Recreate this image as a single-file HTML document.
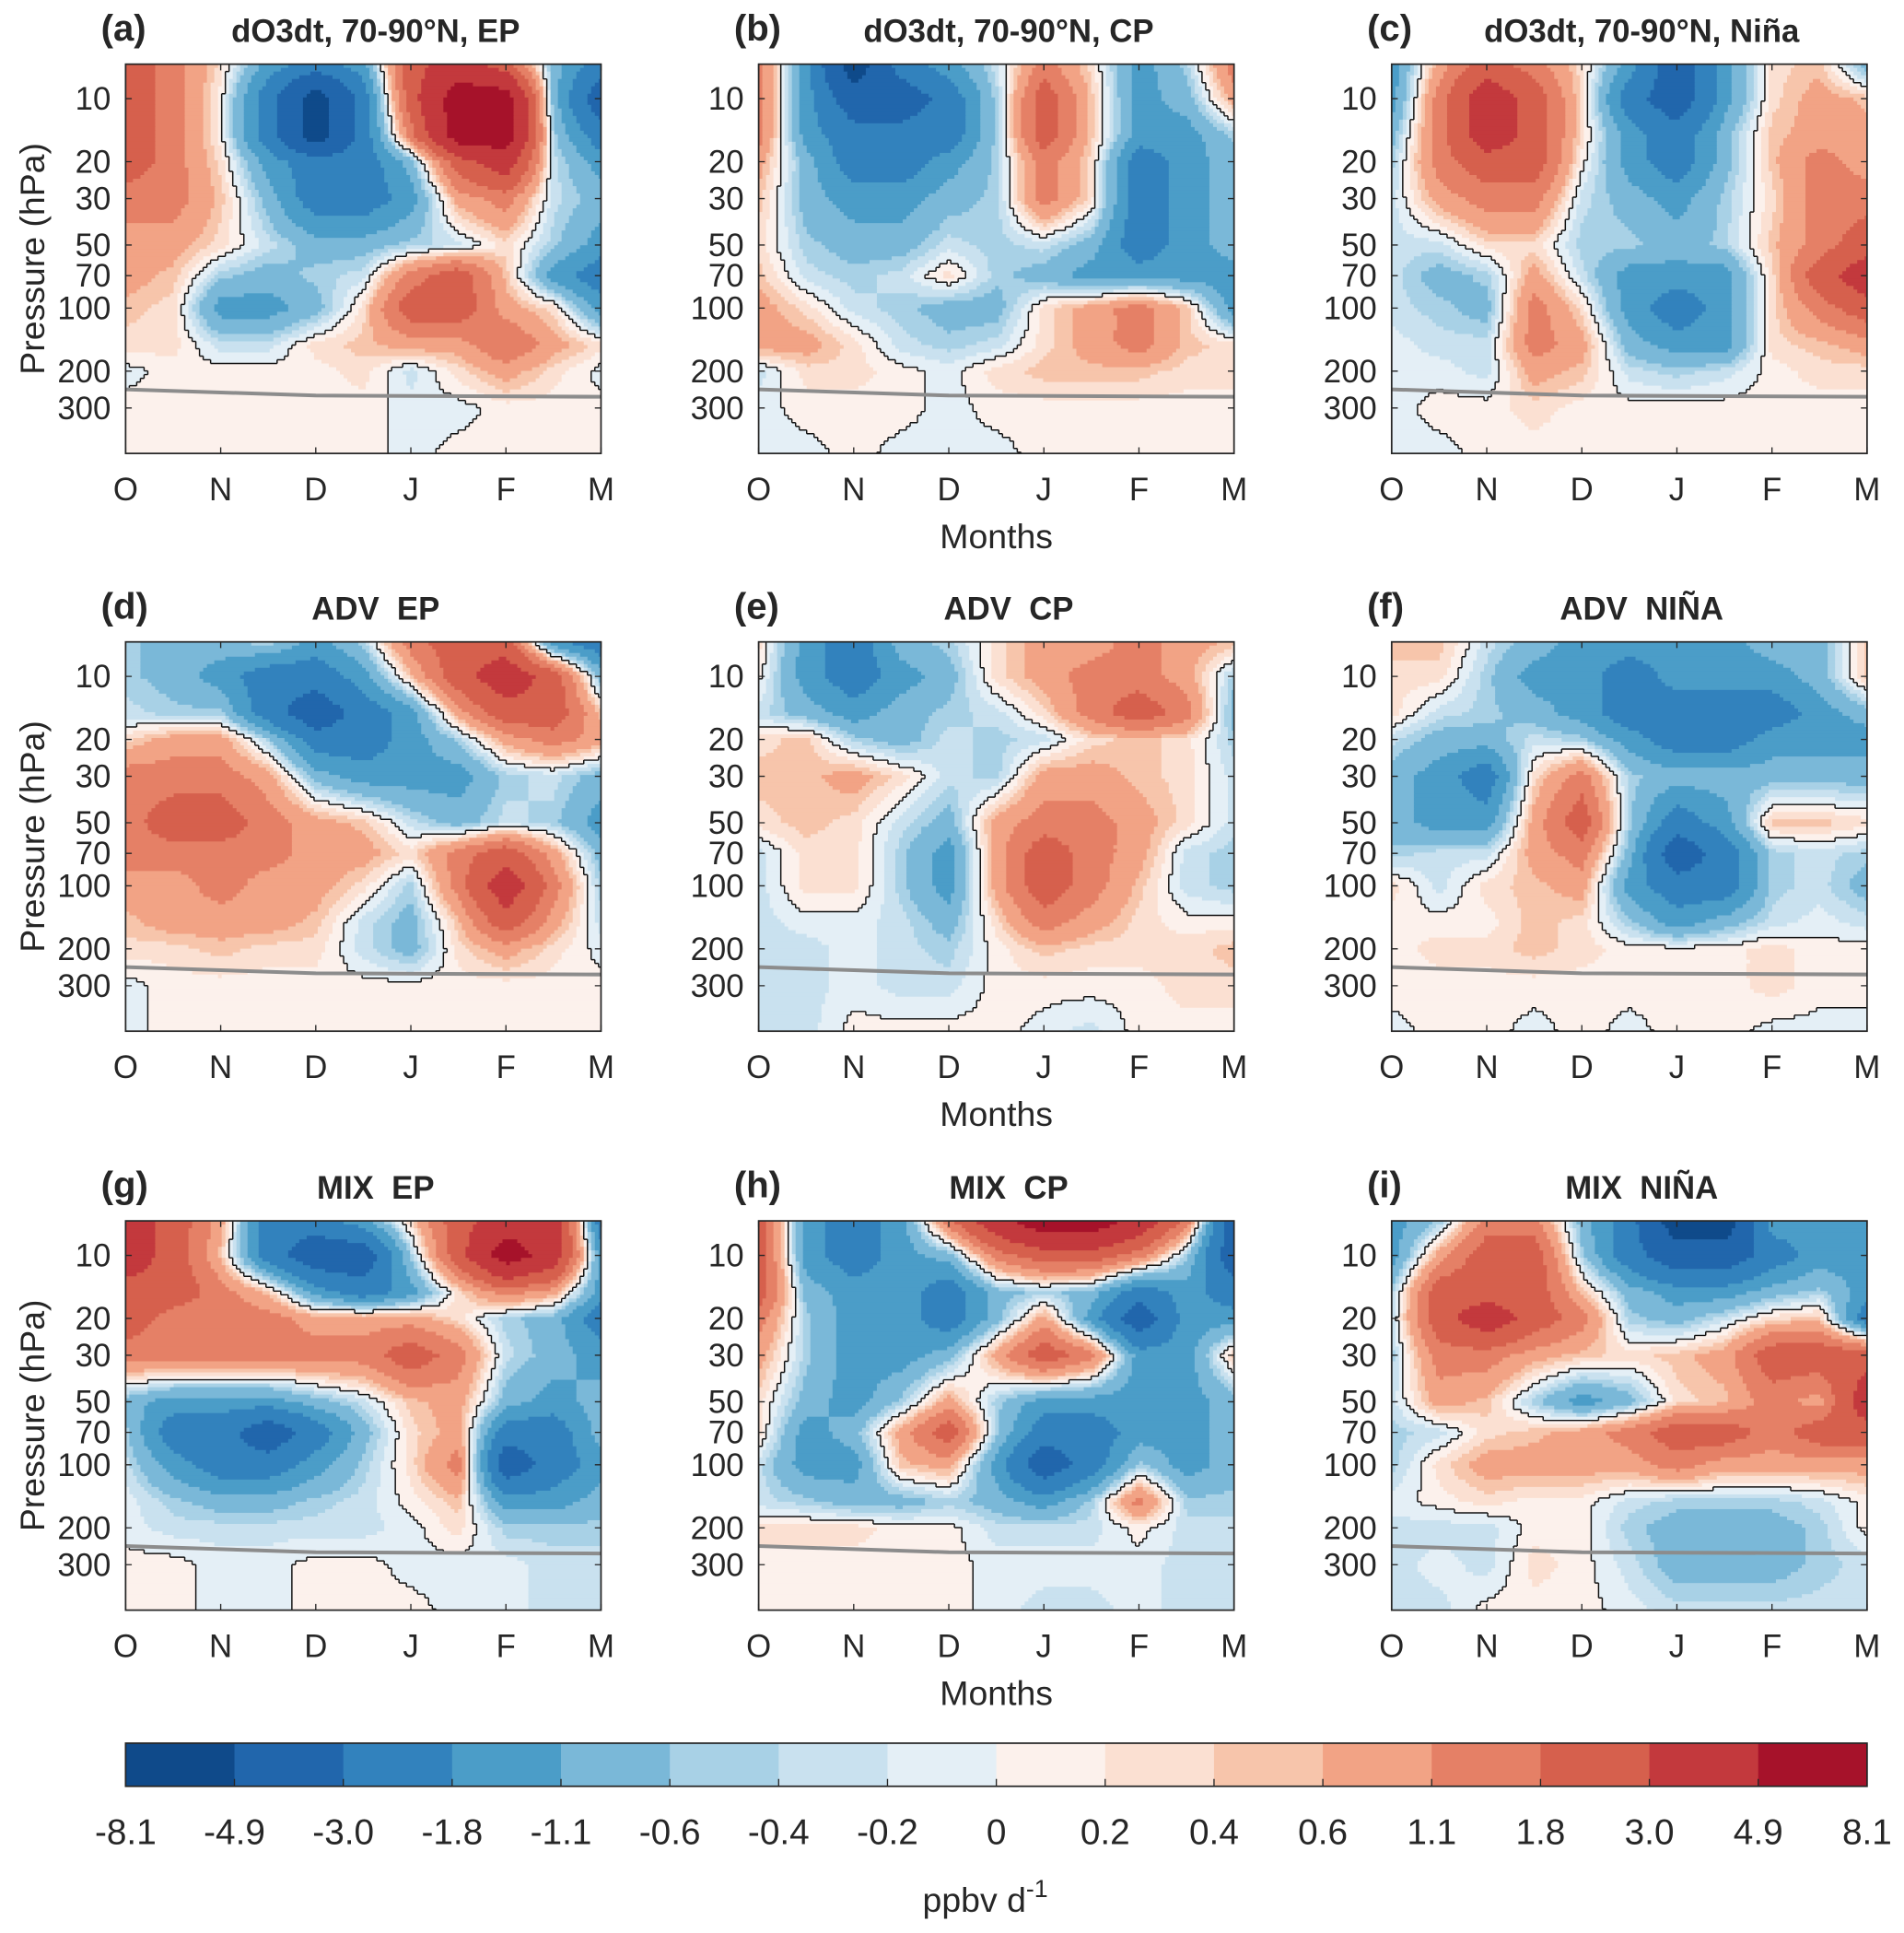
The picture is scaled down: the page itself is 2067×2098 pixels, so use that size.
<!DOCTYPE html>
<html><head><meta charset="utf-8"><style>
html,body{margin:0;padding:0;background:#fff}
svg{display:block}
text{font-family:"Liberation Sans",sans-serif;fill:#262626}
</style></head><body>
<svg id="fig" width="2067" height="2098" viewBox="0 0 1546 1569" xmlns="http://www.w3.org/2000/svg"></svg>
<script>
const pressures=[7,10,15,20,30,50,70,100,150,200,300,500];
const monthLabels=["O","N","D","J","F","M"];
const pressureTicks=[10,20,30,50,70,100,200,300];
const levels=[-8.1,-4.9,-3.0,-1.8,-1.1,-0.6,-0.4,-0.2,0,0.2,0.4,0.6,1.1,1.8,3.0,4.9,8.1];
const levelLabels=["-8.1","-4.9","-3.0","-1.8","-1.1","-0.6","-0.4","-0.2","0","0.2","0.4","0.6","1.1","1.8","3.0","4.9","8.1"];
const colors=["#0f4a8a","#2166ac","#3282bd","#4b9dc8","#7ab8d8","#a8d1e6","#c9e1ef","#e4eff6","#fcf1ec","#fbe0d2","#f7c5ab","#f2a385","#e58066","#d6604d","#c3393d","#a6122a"];
const panelTitles=["dO3dt, 70-90°N, EP","dO3dt, 70-90°N, CP","dO3dt, 70-90°N, Niña","ADV  EP","ADV  CP","ADV  NIÑA","MIX  EP","MIX  CP","MIX  NIÑA"];
const panelLetters=["(a)","(b)","(c)","(d)","(e)","(f)","(g)","(h)","(i)"];
const dataA=[
[2.4,1.4,0.3,-1.4,-2.4,-1.4,2.4,4,2.4,-0.8,-2.4],
[2.4,1.4,0.1,-2.4,-6,-2.4,2.4,6,6,-0.8,-4],
[2.4,1.4,0.1,-2.4,-6,-2.4,1.4,6,6,-0.5,-2.4],
[2.4,1.4,0.3,-1.4,-2.4,-2.4,-0.8,2.4,4,-0.3,-1.4],
[1.4,1.4,0.5,-0.8,-2.4,-2.4,-1.4,0.8,1.4,-0.3,-0.8],
[0.8,0.8,0.3,-0.3,-0.8,-0.8,-0.5,-0.3,0.3,-0.5,-1.4],
[0.8,0.5,-0.5,-0.8,-0.5,-0.3,1.4,2.4,0.5,-1.4,-2.4],
[0.5,0.3,-1.4,-1.4,-0.8,0.3,2.4,2.4,0.8,0.3,-1.4],
[0.3,0.3,-0.3,-0.3,0.3,0.5,0.8,0.8,1.8,0.8,0.3],
[-0.1,0.1,0.1,0.1,0.1,0.3,-0.3,0.3,0.8,0.3,-0.1],
[0.1,0.1,0.1,0.1,0.1,0.1,-0.1,-0.1,0.1,0.1,0.1],
[0.1,0.1,0.1,0.1,0.1,0.1,-0.1,0.1,0.1,0.1,0.1]];
const dataB=[
[1.4,-1.4,-6,-2.4,-1.4,-0.3,1.4,0.3,-1.4,-0.5,1.4],
[1.4,-1.4,-4,-4,-2.4,-0.5,2.4,0.5,-1.4,-0.8,0.8],
[1.4,-1.4,-2.4,-2.4,-2.4,-0.5,2.4,0.5,-1.4,-1.4,-0.5],
[0.8,-0.8,-2.4,-2.4,-1.4,-0.5,1.4,0.3,-2.4,-1.4,-0.8],
[0.5,-0.8,-1.4,-1.4,-0.8,-0.5,1.4,0.3,-2.4,-1.4,-0.8],
[0.3,-0.5,-0.8,-0.8,-0.3,-0.5,-0.3,-0.8,-2.4,-1.4,-0.8],
[0.5,-0.3,-0.5,-0.3,0.3,-0.5,-0.8,-1.4,-1.4,-1.4,-1.4],
[0.8,0.3,-0.3,-0.5,-0.8,-0.8,0.3,0.8,1.4,0.5,-1.4],
[0.8,0.8,0.3,-0.3,-0.5,-0.3,0.3,0.8,1.4,0.5,0.3],
[-0.3,0.3,0.3,0.1,-0.1,0.3,0.5,0.5,0.5,0.3,0.3],
[-0.1,0.1,0.1,0.1,-0.1,0.1,0.1,0.1,0.1,0.1,0.1],
[-0.1,-0.1,0.1,-0.1,-0.1,-0.1,0.1,0.1,0.1,0.1,0.1]];
const dataC=[
[-1.4,0.8,2.4,1.4,0.3,-1.4,-4,-1.4,0.3,0.5,-0.8],
[-1.4,1.4,4,2.4,0.3,-2.4,-4,-1.4,0.3,0.8,0.5],
[-0.8,1.4,4,2.4,0.3,-1.4,-2.4,-0.8,0.5,0.8,0.8],
[-0.5,1.4,2.4,2.4,0.1,-1.4,-2.4,-0.8,0.5,1.4,0.8],
[-0.3,0.8,1.4,1.4,-0.3,-0.8,-1.4,-0.5,0.3,1.4,1.4],
[-0.3,-0.3,0.3,0.3,-0.5,-0.5,-0.8,-0.5,0.5,1.4,2.4],
[-0.3,-0.8,-0.5,0.8,-0.3,-1.4,-1.4,-1.4,0.3,2.4,4],
[-0.3,-0.5,-0.8,1.4,0.3,-1.4,-2.4,-1.4,0.3,1.4,2.4],
[-0.1,-0.3,-0.3,1.4,0.8,-0.8,-1.4,-1.4,0.3,0.5,0.8],
[-0.1,-0.1,-0.3,0.8,0.5,-0.3,-0.5,-0.3,0.1,0.3,0.3],
[-0.1,0.1,0.1,0.3,0.1,0.1,0.1,0.1,0.1,0.1,0.1],
[-0.1,-0.1,0.1,0.1,0.1,0.1,0.1,0.1,0.1,0.1,0.1]];
const dataD=[
[-0.5,-0.8,-0.8,-0.5,-1.4,-0.5,1.4,2.4,2.4,-1.4,-2.4],
[-0.5,-0.8,-1.4,-2.4,-2.4,-1.4,0.5,2.4,4,2.4,-0.8],
[-0.3,-0.5,-0.5,-2.4,-4,-2.4,-1.4,0.8,2.4,2.4,0.5],
[0.3,0.8,0.8,-0.5,-2.4,-2.4,-1.4,-0.5,0.8,1.4,0.8],
[1.4,1.4,1.4,0.8,-0.8,-1.4,-1.4,-1.4,-0.5,-0.3,-0.8],
[1.4,2.4,2.4,1.4,0.8,0.5,-0.3,-0.8,-0.3,-0.5,-1.4],
[1.4,1.4,1.4,1.4,0.8,0.8,0.3,1.4,2.4,0.8,-0.8],
[0.8,0.8,1.4,0.8,0.8,0.3,-0.5,1.4,4,1.4,-0.5],
[0.5,0.8,0.8,0.8,0.5,-0.3,-0.8,0.5,2.4,0.8,-0.3],
[0.3,0.3,0.5,0.3,0.3,-0.3,-0.8,0.3,0.8,0.3,-0.1],
[-0.1,0.1,0.1,0.1,0.1,0.1,0.1,0.1,0.1,0.1,0.1],
[-0.1,0.1,0.1,0.1,0.1,0.1,0.1,0.1,0.1,0.1,0.1]];
const dataE=[
[0.3,-1.4,-2.4,-0.8,-0.5,0.3,0.8,0.8,1.4,0.8,0.5],
[0.1,-1.4,-2.4,-1.4,-0.8,0.3,0.8,1.4,1.4,0.8,-0.5],
[-0.3,-0.8,-1.4,-0.8,-0.5,-0.3,0.3,1.4,2.4,1.4,-0.8],
[0.3,0.5,-0.5,-0.8,-0.3,-0.5,-0.3,0.3,0.5,0.3,-0.5],
[0.5,0.5,0.8,0.3,-0.3,-0.5,0.8,0.8,0.5,0.3,-0.3],
[0.3,0.5,0.3,-0.3,-0.8,0.8,1.4,1.4,0.8,0.3,-0.3],
[-0.3,0.3,0.3,-0.5,-1.4,0.8,2.4,1.4,0.8,-0.3,-0.5],
[-0.3,0.3,0.3,-0.5,-1.4,0.8,2.4,1.4,0.5,-0.3,-0.5],
[-0.3,-0.1,-0.1,-0.3,-0.8,0.3,1.4,0.8,0.3,0.1,0.1],
[-0.3,-0.3,-0.1,-0.3,-0.5,0.1,0.5,0.3,0.3,0.3,0.5],
[-0.3,-0.3,-0.1,-0.3,-0.3,0.1,0.1,0.1,0.1,0.3,0.3],
[-0.3,-0.3,0.1,0.1,0.1,0.1,-0.1,-0.3,0.1,0.1,0.1]];
const dataF=[
[0.5,0.5,-0.3,-0.8,-1.4,-1.4,-1.4,-1.4,-0.8,-0.8,0.5],
[0.3,0.3,-0.5,-1.4,-1.4,-2.4,-1.4,-1.4,-1.4,-0.8,0.5],
[0.3,-0.3,-0.5,-0.8,-1.4,-2.4,-2.4,-2.4,-2.4,-1.4,-0.8],
[-0.3,-0.8,-0.8,-0.3,-0.5,-1.4,-2.4,-2.4,-1.4,-1.4,-1.4],
[-0.8,-1.4,-2.4,0.3,1.4,-0.5,-0.8,-0.8,-0.8,-0.8,-0.8],
[-0.8,-1.4,-1.4,0.8,2.4,-0.5,-2.4,-1.4,0.5,0.5,0.3],
[-0.5,-0.3,-0.3,0.8,1.4,-0.8,-4,-2.4,-0.5,-0.3,-0.5],
[0.3,-0.3,0.3,0.5,0.8,-1.4,-2.4,-2.4,-0.5,-0.3,-0.8],
[0.1,0.1,0.1,0.5,0.3,-0.5,-1.4,-0.8,-0.3,-0.1,-0.3],
[0.1,0.3,0.3,0.5,0.3,0.1,0.1,0.1,0.3,0.1,0.1],
[0.1,0.1,0.1,0.1,0.1,0.1,0.1,0.1,0.3,0.1,0.1],
[-0.1,0.1,0.1,-0.1,0.1,-0.1,0.1,0.1,-0.1,-0.1,-0.1]];
const dataG=[
[4,2.4,0.8,-2.4,-2.4,-1.4,0.3,2.4,4,4,-2.4],
[4,2.4,0.5,-2.4,-4,-4,-0.5,2.4,6,4,-1.4],
[2.4,2.4,1.4,0.5,-1.4,-2.4,-1.4,0.3,1.4,0.8,-1.4],
[2.4,1.4,1.4,1.4,0.8,0.8,0.8,0.3,-0.5,-0.8,-2.4],
[1.4,1.4,1.4,1.4,1.4,1.4,2.4,1.4,-0.3,-0.8,-1.4],
[-0.8,-1.4,-1.4,-1.4,-0.8,-0.3,0.5,0.8,-0.8,-1.4,-0.8],
[-0.5,-2.4,-2.4,-4,-2.4,-0.8,0.3,0.8,-2.4,-2.4,-0.8],
[-0.3,-1.4,-2.4,-2.4,-1.4,-0.5,0.3,1.4,-4,-2.4,-1.4],
[-0.1,-0.5,-0.8,-0.8,-0.5,-0.3,0.1,0.5,-1.4,-1.4,-0.8],
[-0.1,-0.3,-0.3,-0.3,-0.3,-0.3,-0.1,0.3,-0.5,-0.5,-0.5],
[0.1,0.1,-0.1,-0.1,0.1,0.1,-0.1,-0.1,-0.1,-0.3,-0.3],
[0.1,0.1,-0.1,-0.1,0.1,0.1,0.1,-0.1,-0.1,-0.3,-0.3]];
const dataH=[
[2.4,-1.4,-2.4,-1.4,1.4,4,6,6,4,1.4,-4],
[2.4,-1.4,-2.4,-1.4,-0.8,1.4,2.4,2.4,1.4,-0.5,-4],
[2.4,-0.8,-1.4,-1.4,-2.4,-0.8,-0.5,-0.8,-2.4,-1.4,-2.4],
[1.4,-0.5,-1.4,-1.4,-2.4,-0.8,0.8,-1.4,-4,-1.4,-1.4],
[0.8,-0.5,-1.4,-1.4,-0.8,0.8,2.4,1.4,-1.4,-1.4,0.5],
[0.3,-0.8,-1.4,-0.5,0.8,-0.5,-1.4,-1.4,-1.4,-1.4,-0.8],
[0.3,-1.4,-0.8,0.8,2.4,-0.5,-2.4,-2.4,-1.4,-1.4,-0.8],
[-0.3,-1.4,-1.4,0.5,0.8,-1.4,-4,-2.4,-0.5,-1.4,-0.8],
[-0.3,-0.5,-0.8,-0.8,-0.5,-0.8,-1.4,-0.5,1.4,-0.5,-0.5],
[0.3,0.3,0.3,0.1,0.1,-0.3,-0.3,-0.3,0.1,-0.3,-0.3],
[0.1,0.1,0.1,0.1,0.1,-0.1,-0.1,-0.1,-0.1,-0.3,-0.3],
[0.1,0.1,0.1,0.1,0.1,-0.1,-0.3,-0.3,-0.1,-0.3,-0.3]];
const dataI=[
[-1.4,-0.5,1.4,1.4,-0.8,-2.4,-6,-6,-1.4,-1.4,-1.4],
[-1.4,0.8,2.4,2.4,-0.5,-2.4,-4,-4,-2.4,-1.4,-1.4],
[-0.5,2.4,2.4,2.4,0.5,-0.8,-1.4,-1.4,-0.8,-0.5,-1.4],
[-0.3,2.4,4,2.4,1.4,-0.5,-0.8,-0.3,0.3,0.5,-2.4],
[-0.5,1.4,1.4,0.8,0.5,0.3,0.5,0.8,2.4,2.4,2.4],
[-0.3,0.8,0.5,-0.5,-1.4,-0.8,0.3,0.5,1.4,0.8,4],
[-0.5,-0.3,0.3,0.5,0.8,1.4,2.4,2.4,1.4,2.4,2.4],
[-0.5,0.3,0.8,0.8,0.8,0.8,1.4,0.8,0.8,0.8,0.8],
[-0.1,0.1,0.3,0.1,0.1,-0.3,-0.5,-0.5,-0.5,-0.3,0.1],
[-0.3,-0.3,-0.3,0.1,0.1,-0.5,-0.8,-0.8,-0.8,-0.5,0.1],
[-0.3,-0.1,-0.3,0.3,0.1,-0.3,-0.8,-0.8,-0.8,-0.5,-0.3],
[-0.3,-0.3,0.1,0.1,0.1,-0.1,-0.3,-0.3,-0.3,-0.3,-0.3]];
const panelData=[dataA,dataB,dataC,dataD,dataE,dataF,dataG,dataH,dataI];

const NS="http://www.w3.org/2000/svg";
const svg=document.getElementById("fig");
function mk(tag,attrs,parent){const e=document.createElementNS(NS,tag);for(const k in attrs)e.setAttribute(k,attrs[k]);(parent||svg).appendChild(e);return e;}
const colX=[102,616,1130], rowY=[52,521,991];
const PW=386, PH=316;
function yOfP(p,y0){return y0+28+170*(Math.log10(p)-1);}
function pOfY(y,y0){return Math.pow(10,1+(y-y0-28)/170);}
function xOfMonth(m,x0){return x0+m*PW/5;}
function colorIdx(v){for(let i=0;i<16;i++){if(v<levels[i+1])return i;}return 15;}
const logP=pressures.map(p=>Math.log10(p));
function sample(data,t,p){
  const lp=Math.log10(p);let j=0;
  while(j<pressures.length-2&&lp>logP[j+1])j++;
  let fy=(lp-logP[j])/(logP[j+1]-logP[j]);fy=Math.max(0,Math.min(1,fy));
  let i=Math.min(Math.floor(t),data[0].length-2);let fx=Math.max(0,Math.min(1,t-i));
  const a=data[j][i],b=data[j][i+1],c=data[j+1][i],d=data[j+1][i+1];
  return a*(1-fx)*(1-fy)+b*fx*(1-fy)+c*(1-fx)*fy+d*fx*fy;
}
for(let k=0;k<9;k++){
  const x0=colX[k%3],y0=rowY[Math.floor(k/3)],data=panelData[k];
  const g=mk("g",{});
  
  
  const step=3,nx=Math.ceil(PW/step),ny=Math.ceil(PH/step);
  const vals=[];
  for(let r=0;r<ny;r++){const row=[];const p=pOfY(y0+(r+0.5)*step,y0);
    for(let c=0;c<nx;c++){const t=((c+0.5)*step/PW)*(data[0].length-1);row.push(sample(data,t,p));}
    vals.push(row);}
  const field=mk("g",{},g);
  
  
  for(let r=0;r<ny;r++){let c=0;
    while(c<nx){const ci=colorIdx(vals[r][c]);let e=c+1;while(e<nx&&colorIdx(vals[r][e])===ci)e++;
      const w=Math.min(e*step,PW)-c*step,h=Math.min((r+1)*step,PH)-r*step;
      const rc=mk("rect",{x:x0+c*step,y:y0+r*step,width:w+0.4,height:h+0.4,fill:colors[ci]},field);
      
      
      c=e;}}
  let dstr="";
  for(let r=0;r<ny;r++)for(let c=0;c<nx;c++){const s=vals[r][c]>=0;
    if(c<nx-1&&(vals[r][c+1]>=0)!==s){const xx=x0+(c+1)*step;dstr+=`M${xx},${y0+r*step}V${y0+Math.min((r+1)*step,PH)}`;}
    if(r<ny-1&&(vals[r+1][c]>=0)!==s){const yy=y0+(r+1)*step;dstr+=`M${x0+c*step},${yy}H${x0+Math.min((c+1)*step,PW)}`;}}
  const cl=mk("path",{d:dstr,stroke:"#111",fill:"none","stroke-width":1.1},g);
  
  
  const tl=mk("path",{d:`M${x0},${y0+264}L${x0+PW*0.4},${y0+269}L${x0+PW},${y0+270}`,stroke:"#8c8c8c",fill:"none","stroke-width":3},g);
  
  
  const fr=mk("rect",{x:x0,y:y0,width:PW,height:PH,fill:"none",stroke:"#262626","stroke-width":1.3},g);
  
  
  monthLabels.forEach((m,i)=>{const xx=xOfMonth(i,x0);
    mk("path",{d:`M${xx},${y0+PH}v-5M${xx},${y0}v5`,stroke:"#262626"},g);
    const t=mk("text",{x:xx,y:y0+PH+38,"font-size":26,"text-anchor":"middle"},g);t.textContent=m;
    
    });
  pressureTicks.forEach(p=>{const yy=yOfP(p,y0);
    mk("path",{d:`M${x0},${yy}h5M${x0+PW},${yy}h-5`,stroke:"#262626"},g);
    const t=mk("text",{x:x0-12,y:yy+9,"font-size":26,"text-anchor":"end"},g);t.textContent=p;
    
    });
  const lt=mk("text",{x:x0-20,y:y0-19,"font-size":30,"font-weight":"bold",fill:"#000"},g);lt.textContent=panelLetters[k];
  
  
  const tt=mk("text",{x:x0+203,y:y0-18,"font-size":26,"font-weight":"bold","text-anchor":"middle",fill:"#000"},g);tt.textContent=panelTitles[k];
  tt.style.whiteSpace="pre";
  
  
  if(k%3===1){const mt=mk("text",{x:x0+PW/2,y:y0+PH+77,"font-size":28,"text-anchor":"middle"},g);mt.textContent="Months";
    
    }
  if(k%3===0){const yt=mk("text",{x:0,y:0,"font-size":28,"text-anchor":"middle",transform:`translate(36,${y0+PH/2}) rotate(-90)`},g);yt.textContent="Pressure (hPa)";
    
    }
}
const cb=mk("g",{});


const cbx=102,cbw=1414,cby=1415,cbh=35,bw=cbw/16;
colors.forEach((c,i)=>{const r=mk("rect",{x:cbx+i*bw,y:cby,width:bw+0.5,height:cbh,fill:c},cb);
  
  });
mk("rect",{x:cbx,y:cby,width:cbw,height:cbh,fill:"none",stroke:"#262626","stroke-width":1.3},cb);
levelLabels.forEach((l,i)=>{const xx=cbx+i*bw;
  if(i>0&&i<16)mk("path",{d:`M${xx},${cby+cbh}v-6`,stroke:"#262626"},cb);
  const t=mk("text",{x:xx,y:1497,"font-size":29,"text-anchor":"middle"},cb);t.textContent=l;
  
  });
const ut=mk("text",{x:800,y:1552,"font-size":28,"text-anchor":"middle"},cb);


ut.innerHTML='ppbv d<tspan dy="-12" font-size="20">-1</tspan>';
</script>
</body></html>
